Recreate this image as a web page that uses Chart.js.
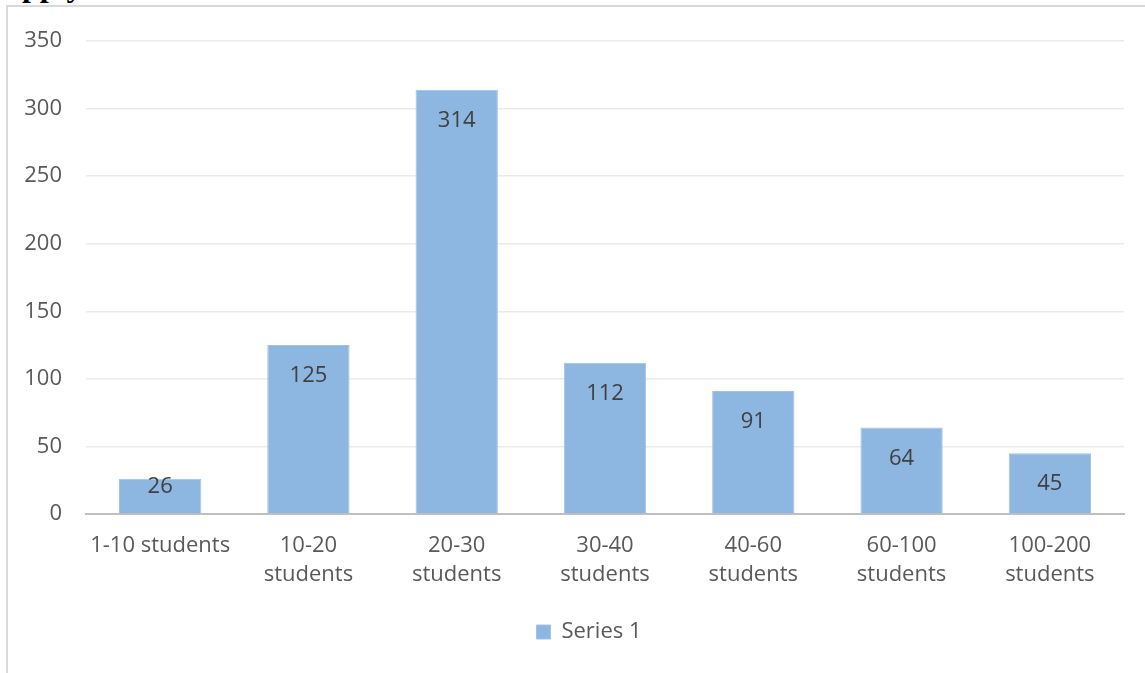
<!DOCTYPE html>
<html>
<head>
<meta charset="utf-8">
<script src="https://cdn.jsdelivr.net/npm/chart.js@4.4.1/dist/chart.umd.min.js"></script>
<style>
  html, body { margin: 0; padding: 0; background: #ffffff; }
  body { width: 1145px; height: 673px; position: relative; overflow: hidden; }
  #frame { position: absolute; left: 6px; top: 5px; width: 1200px; height: 700px; border: 2px solid #d9d9d9; box-sizing: border-box; }
  #clip { position: absolute; left: 22px; top: 0; width: 100px; height: 5px; overflow: hidden; }
  #clip span { position: absolute; left: 0; top: -31px; font: bold 32px "Liberation Serif", serif; color: #000; line-height: 32px; white-space: nowrap; }
  #wrap { position: absolute; left: 0; top: 0; width: 1145px; height: 673px; }
</style>
</head>
<body>
<div id="clip"><span>pply</span></div>
<div id="frame"></div>
<div id="wrap"><canvas id="c" width="1145" height="673"></canvas></div>
<script>
const categories = [
  "1-10 students",
  ["10-20", "students"],
  ["20-30", "students"],
  ["30-40", "students"],
  ["40-60", "students"],
  ["60-100", "students"],
  ["100-200", "students"]
];
const seriesName = "Series 1";
const seriesValues = [26, 125, 314, 112, 91, 64, 45];
const yTicks = [0, 50, 100, 150, 200, 250, 300, 350];

const FONT = '"Open Sans", "Liberation Sans", sans-serif';

const labelPlugin = {
  id: 'insideEndLabels',
  afterLayout(chart) {
    const lg = chart.legend;
    if (lg) { lg.left += 27; lg.right += 27; }
  },
  afterDatasetsDraw(chart) {
    const ctx = chart.ctx;
    const meta = chart.getDatasetMeta(0);
    ctx.save();
    ctx.font = '22px ' + FONT;
    ctx.fillStyle = '#404040';
    ctx.textAlign = 'center';
    ctx.textBaseline = 'middle';
    meta.data.forEach((bar, i) => {
      const y = Math.min(bar.y + 31, bar.base - 27);
      ctx.fillText(String(chart.data.datasets[0].data[i]), bar.x, y);
    });
    ctx.restore();
  }
};

new Chart(document.getElementById('c'), {
  type: 'bar',
  data: {
    labels: categories,
    datasets: [{
      label: seriesName,
      data: seriesValues,
      backgroundColor: '#8db6e0',
      borderColor: '#9fc3e7',
      borderWidth: 1,
      barPercentage: 0.555,
      categoryPercentage: 1.0
    }]
  },
  options: {
    responsive: false,
    animation: false,
    layout: { padding: { top: 41, right: 21, bottom: 20, left: 0 } },
    plugins: {
      legend: {
        position: 'bottom',
        labels: {
          boxWidth: 14, boxHeight: 14, padding: 10,
          color: '#595959',
          font: { family: FONT, size: 22 }
        }
      },
      tooltip: { enabled: false }
    },
    scales: {
      x: {
        grid: { display: false, drawTicks: false },
        border: { display: true, color: '#bfbfbf', width: 2 },
        ticks: {
          color: '#595959', padding: 17, maxRotation: 0, autoSkip: false,
          font: { family: FONT, size: 22, lineHeight: 1.33 }
        },
        afterFit(scale) { scale.height = 97; }
      },
      y: {
        min: 0, max: 350,
        afterBuildTicks(scale) { scale.ticks = yTicks.map(v => ({ value: v })); },
        grid: {
          drawTicks: false,
          color: '#ebebeb',
          lineWidth: 1.5
        },
        border: { display: false },
        ticks: {
          color: '#595959', padding: 24,
          font: { family: FONT, size: 22 }
        },
        afterFit(scale) { scale.width = 86; }
      }
    }
  },
  plugins: [labelPlugin]
});
</script>
</body>
</html>
